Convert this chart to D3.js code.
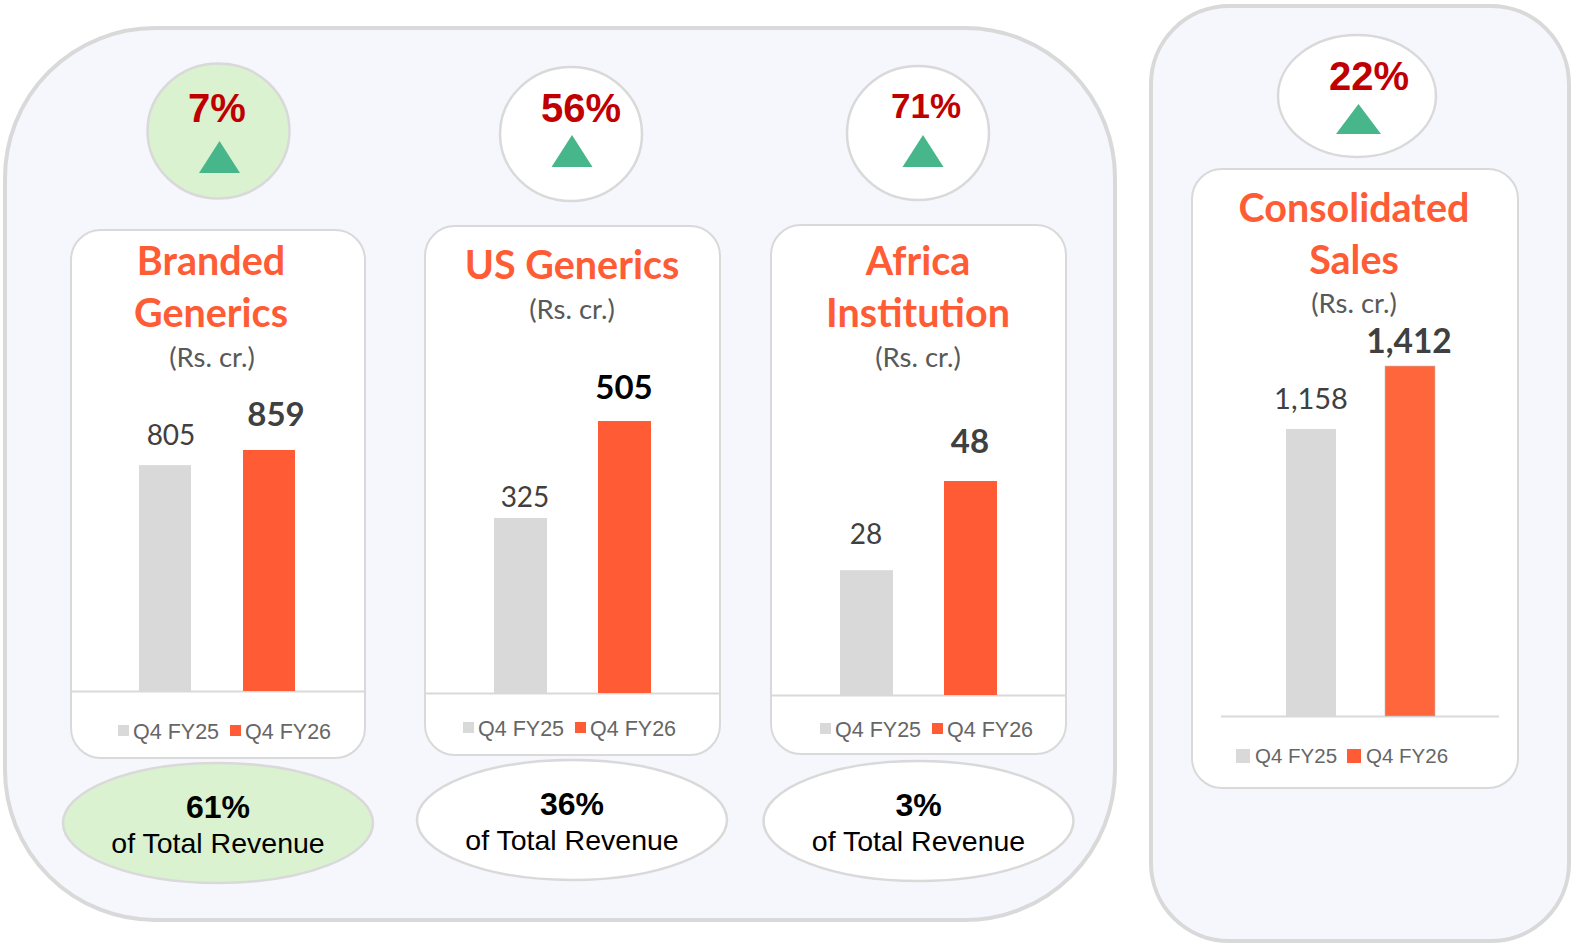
<!DOCTYPE html>
<html><head><meta charset="utf-8">
<script src="https://cdnjs.cloudflare.com/ajax/libs/d3/7.8.5/d3.min.js"></script>
<style>html,body{margin:0;padding:0;background:#fff}svg{display:block}</style>
</head><body><div id="c"></div>
<script>
const periods = ["Q4 FY25", "Q4 FY26"];
const segments = ["Branded Generics", "US Generics", "Africa Institution", "Consolidated Sales"];
const titleLines = [["Branded", "Generics"], ["US Generics"], ["Africa", "Institution"], ["Consolidated", "Sales"]];
const fy25Values = [805, 325, 28, 1158];
const fy26Values = [859, 505, 48, 1412];
const growthLabels = ["7%", "56%", "71%", "22%"];
const shareLabels = ["61%", "36%", "3%", null];
const shareCaption = "of Total Revenue";
const unitLabel = "(Rs. cr.)";

const C = {border:"#d9d9d9", panel:"#f6f7fd", orange:"#ff5c35", grey:"#d9d9d9", green:"#daf2d0", tri:"#47b68a", red:"#c00000"};
const calibri = "Lato, Carlito, sans-serif", arial = "'Liberation Sans', Arial, sans-serif";

const layouts = [
 {card:[71,230,365,758], base:691, top:450, barL:139, barW:52, gap:104, bub:[218.5,131,71,67.5], tri:[219.5,141,173,20.5], pct:[217,122,40], title:[211,275,327], unit:[212,367], bar25Lab:[171,445], bar26Lab:[276,426], leg:[118,739], legSz:11, legFs:21.5, legOff:15, legDrop:3, share:[218,823,155,60], legGap:112, axis:[71,365], s25:28, s26:33},
 {card:[425,226,720,755], base:693, top:421, barL:494, barW:53, gap:104, bub:[571,134,71,67], tri:[572,135,167,20.5], pct:[581,122,40], title:[572,279], unit:[572,319], bar25Lab:[525,507], bar26Lab:[624,399], leg:[463,736], legSz:11, legFs:21.5, legOff:15, legDrop:3, share:[572,820,155,60], legGap:112, axis:[425,720], s25:28, s26:33},
 {card:[771,225,1066,754], base:695, top:481, barL:840, barW:53, gap:104, bub:[918,133,71,67], tri:[923,135,167,20.5], pct:[926,118,35], title:[918,275,327], unit:[918,367], bar25Lab:[866,544], bar26Lab:[970,453], leg:[820,737], legSz:11, legFs:21.5, legOff:15, legDrop:3, share:[918.5,821,155,60], legGap:112, axis:[771,1066], s25:28, s26:33},
 {card:[1192,169,1518,788], base:716, top:366, barL:1286, barW:50, gap:99, bub:[1357,96,79,61], tri:[1358.5,104,134,22.5], pct:[1369,90,40], title:[1354,222,274], unit:[1354,313], bar25Lab:[1311,409], bar26Lab:[1409,353], leg:[1236,763], legSz:14, legFs:20.5, legOff:19, legDrop:0, share:null, legGap:111, axis:[1221,1499], s25:29, s26:33.5, outline:true}
];

const svg = d3.select("#c").append("svg").attr("width",1575).attr("height",944);
const rr = (x0,y0,x1,y1,r,fill,sw)=>svg.append("rect").attr("x",x0).attr("y",y0).attr("width",x1-x0).attr("height",y1-y0).attr("rx",r).attr("ry",r).attr("fill",fill).attr("stroke",C.border).attr("stroke-width",sw);
rr(5,28,1115,920,150,C.panel,4);
rr(1151,6,1569,941,78,C.panel,4);

const text=(x,y,s,size,fill,weight,fam,anchor)=>svg.append("text").attr("x",x).attr("y",y).attr("text-anchor",anchor||"middle").attr("font-family",fam).attr("font-size",size).attr("font-weight",weight||400).attr("fill",fill).text(s);

segments.forEach((seg,i)=>{
  const L = layouts[i];
  const g25 = i===0;
  svg.append("ellipse").attr("cx",L.bub[0]).attr("cy",L.bub[1]).attr("rx",L.bub[2]).attr("ry",L.bub[3]).attr("fill",g25?C.green:"#fff").attr("stroke",C.border).attr("stroke-width",2.5);
  svg.append("path").attr("d",d3.line()([[L.tri[0],L.tri[1]],[L.tri[0]-L.tri[3],L.tri[2]],[L.tri[0]+L.tri[3],L.tri[2]]])+"Z").attr("fill",C.tri);
  text(L.pct[0],L.pct[1],growthLabels[i],L.pct[2],C.red,700,arial);
  rr(L.card[0],L.card[1],L.card[2],L.card[3],30,"#fff",2);
  titleLines[i].forEach((t,k)=>text(L.title[0],L.title[1+k],t,39.5,C.orange,700,calibri));
  text(L.unit[0],L.unit[1],unitLabel,27.5,"#595959",400,calibri);

  const y = d3.scaleLinear().domain([0,fy26Values[i]]).range([L.base,L.top]);
  const x = d3.scalePoint().domain(periods).range([L.barL, L.barL+L.gap]);
  const vals=[fy25Values[i],fy26Values[i]];
  svg.append("line").attr("x1",L.axis[0]).attr("x2",L.axis[1]).attr("y1",L.base+.5).attr("y2",L.base+.5).attr("stroke",C.border).attr("stroke-width",2);
  svg.append("g").selectAll("rect").data(periods).join("rect")
    .attr("x",d=>x(d)).attr("width",L.barW)
    .attr("y",(d,k)=>y(vals[k])).attr("height",(d,k)=>L.base-y(vals[k]))
    .attr("fill",(d,k)=>k?(L.outline?"#ff663c":C.orange):C.grey)
    .attr("stroke",(d,k)=>k&&L.outline?"#bfbfbf":"none").attr("stroke-width",.6);
  text(L.bar25Lab[0],L.bar25Lab[1],d3.format(",")(vals[0]),L.s25,"#404040",400,calibri);
  text(L.bar26Lab[0],L.bar26Lab[1],d3.format(",")(vals[1]),L.s26,i===1?"#000":"#404040",700,calibri);

  periods.forEach((p,k)=>{
    const lx=L.leg[0]+k*L.legGap, sz=L.legSz;
    svg.append("rect").attr("x",lx).attr("y",L.leg[1]-(sz+L.legDrop)).attr("width",sz).attr("height",sz).attr("fill",k?C.orange:C.grey);
    text(lx+L.legOff,L.leg[1],p,L.legFs,"#666",400,arial,"start");
  });

  if(L.share){
    svg.append("ellipse").attr("cx",L.share[0]).attr("cy",L.share[1]).attr("rx",L.share[2]).attr("ry",L.share[3]).attr("fill",g25?C.green:"#fff").attr("stroke",C.border).attr("stroke-width",2.5);
    text(L.share[0],L.share[1]-5,shareLabels[i],32,"#000",700,arial);
    text(L.share[0],L.share[1]+30,shareCaption,28.5,"#000",400,arial);
  }
});
</script></body></html>
